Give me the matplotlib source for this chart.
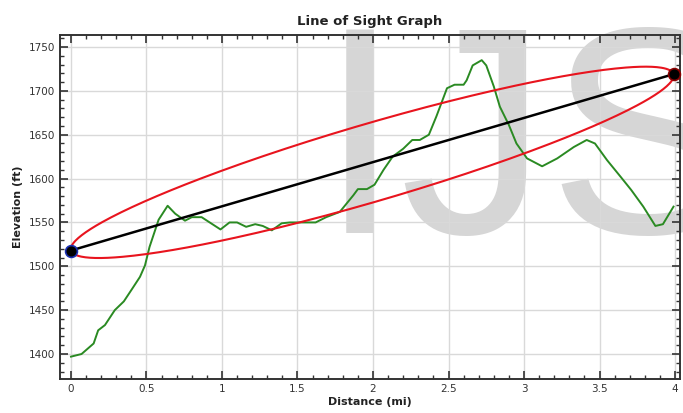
import matplotlib
matplotlib.use("Agg")
import matplotlib.pyplot as plt
import numpy as np
from matplotlib.ticker import MultipleLocator

# terrain profile (distance in mi, elevation in ft)
dist = [0.0, 0.07, 0.15, 0.18, 0.225, 0.29, 0.35, 0.40, 0.457, 0.49, 0.52, 0.58,
        0.64, 0.69, 0.755, 0.80, 0.865, 0.99, 1.05, 1.10, 1.16, 1.22, 1.27, 1.33,
        1.395, 1.45, 1.52, 1.62, 1.69, 1.78, 1.87, 1.90, 1.96, 2.01, 2.07, 2.13,
        2.20, 2.26, 2.31, 2.37, 2.42, 2.49, 2.54, 2.60, 2.62, 2.66, 2.72, 2.75,
        2.80, 2.84, 2.90, 2.95, 3.02, 3.12, 3.22, 3.33, 3.415, 3.47, 3.55, 3.64,
        3.71, 3.79, 3.87, 3.92, 3.99]
elev = [1397, 1400, 1412, 1427, 1433, 1450, 1460, 1473, 1488, 1501, 1522, 1553,
        1569, 1560, 1552, 1556, 1556, 1542, 1550, 1550, 1545, 1548, 1546, 1541,
        1549, 1550, 1550, 1550, 1556, 1562, 1581, 1588, 1588, 1593, 1610, 1625,
        1634, 1644, 1644, 1650, 1671, 1703, 1707, 1707, 1712, 1729, 1735, 1729,
        1705, 1682, 1661, 1640, 1623, 1614, 1623, 1636, 1644, 1640, 1621, 1602,
        1587, 1568, 1546, 1548, 1568]

observer = (0.0, 1518)
target = (3.99, 1719)
zone_clearance = 46  # ft, vertical half-width of the zone at mid span

fig = plt.figure(figsize=(6.83, 4.13), dpi=100)
ax = fig.add_axes([0.0878, 0.0823, 0.9078, 0.8330])
ax.set_xlim(-0.073, 4.033)
ax.set_ylim(1371.5, 1763.7)

ax.set_axisbelow(True)
ax.grid(True, which='major', color='#d9d9d9', linewidth=1)
ax.xaxis.set_major_locator(MultipleLocator(0.5))
ax.xaxis.set_minor_locator(MultipleLocator(0.1))
ax.yaxis.set_major_locator(MultipleLocator(50))
ax.yaxis.set_minor_locator(MultipleLocator(10))
ax.xaxis.set_major_formatter(matplotlib.ticker.FuncFormatter(lambda v, p: ('%g' % v)))
ax.yaxis.set_major_formatter(matplotlib.ticker.FuncFormatter(lambda v, p: ('%d' % v)))
ax.tick_params(which='both', direction='in', top=True, right=True,
               color='#333333', labelcolor='#333333', labelsize=7.5)
ax.tick_params(which='major', length=5.5, width=1.2)
ax.tick_params(which='minor', length=2.8, width=1)
for s in ax.spines.values():
    s.set_color('#333333')
    s.set_linewidth(1.4)

# watermark, under the grid and the lines
ax.text(0.467, 0.436, 'IJS', family='Liberation Sans', fontsize=213,
        color='#d6d6d6', ha='left', va='baseline', zorder=0.4,
        transform=fig.transFigure, clip_on=False)

ax.plot(dist, elev, color='#2a8a22', linewidth=1.4, zorder=3)

# line of sight
ax.plot([observer[0], target[0]], [observer[1], target[1]], color='black',
        linewidth=1.8, zorder=4)

# zone ellipse computed in display space
fig.canvas.draw()
p0 = ax.transData.transform(observer)
p1 = ax.transData.transform(target)
c = (p0 + p1) / 2
u = (p1 - p0) / 2
a = np.hypot(*u)
n = np.array([-u[1], u[0]]) / a
sy = ax.transData.transform((0, zone_clearance))[1] - ax.transData.transform((0, 0))[1]
b = sy * abs(u[0]) / a
t = np.linspace(0, 2 * np.pi, 400)
pts = c + np.outer(np.cos(t), u) + np.outer(np.sin(t), n * b)
dpts = ax.transData.inverted().transform(pts)
ax.plot(dpts[:, 0], dpts[:, 1], color='#e8141e', linewidth=1.5, zorder=3.5)

ax.plot(*observer, 'o', ms=8.5, mfc='black', mec='#1a2fb0', mew=1.2, zorder=5, clip_on=False)
ax.plot(*target, 'o', ms=8.5, mfc='black', mec='#8a0000', mew=1.2, zorder=5, clip_on=False)

ax.set_title('Line of Sight Graph', fontsize=9.5, fontweight='bold', color='#222222', pad=7)
ax.set_xlabel('Distance (mi)', fontsize=8, fontweight='bold', color='#222222', labelpad=2)
ax.set_ylabel('Elevation (ft)', fontsize=8, fontweight='bold', color='#222222', labelpad=4)

fig.savefig('out.png', dpi=100)
